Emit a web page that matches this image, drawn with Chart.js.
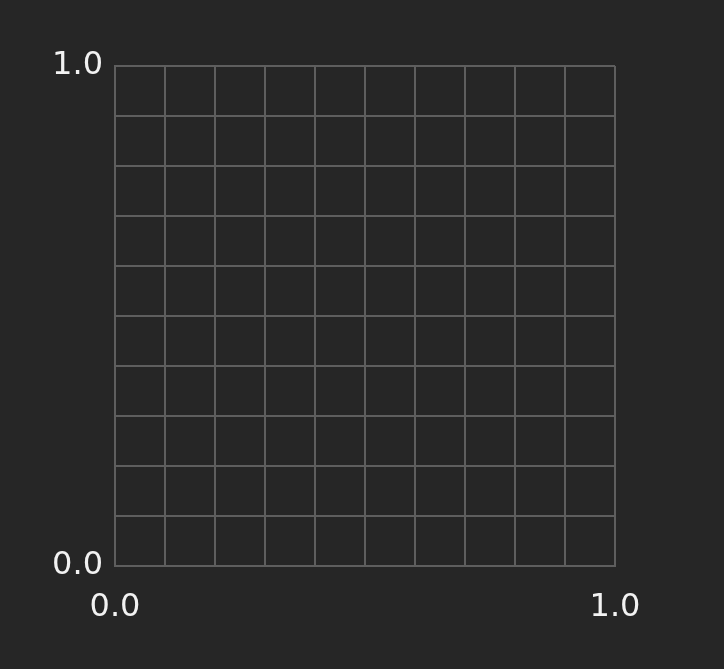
<!DOCTYPE html>
<html>
<head>
<meta charset="utf-8">
<script src="https://cdn.jsdelivr.net/npm/chart.js@4/dist/chart.umd.min.js"></script>
<style>
  html, body { margin: 0; padding: 0; background: #262626; }
  #wrap { width: 724px; height: 669px; }
</style>
</head>
<body>
<div id="wrap"><canvas id="c" width="724" height="669"></canvas></div>
<script>
// Axis ranges and labelled ticks
const xRange = [0, 1];
const yRange = [0, 1];
const gridStep = 0.1;
const xTickValues = [0, 1];
const xTickLabels = ['0.0', '1.0'];
const yTickValues = [0, 1];
const yTickLabels = ['0.0', '1.0'];
// The chart has no plotted series (empty grid)
const seriesPoints = [];

function labelFor(values, labels, v) {
  for (let i = 0; i < values.length; i++) {
    if (Math.abs(values[i] - v) < 1e-9) return labels[i];
  }
  return '';
}

const bg = {
  id: 'bg',
  beforeDraw(chart) {
    const ctx = chart.ctx;
    ctx.save();
    ctx.fillStyle = '#262626';
    ctx.fillRect(0, 0, chart.width, chart.height);
    ctx.restore();
  }
};

const gridColor = '#5e5e5e';
const font = { family: 'DejaVu Sans', size: 32 };

new Chart(document.getElementById('c'), {
  type: 'scatter',
  data: { datasets: [{ data: seriesPoints, pointRadius: 0 }] },
  options: {
    responsive: false,
    animation: false,
    layout: { padding: { left: 0, right: 109, top: 66, bottom: 0 } },
    plugins: { legend: { display: false }, tooltip: { enabled: false } },
    scales: {
      x: {
        type: 'linear',
        min: xRange[0], max: xRange[1],
        afterFit(scale) { scale.height = 103; },
        grid: { color: gridColor, lineWidth: 2, drawTicks: false },
        border: { display: true, color: gridColor, width: 2 },
        ticks: {
          stepSize: gridStep,
          autoSkip: false,
          maxRotation: 0,
          padding: 22,
          color: '#f2f2f2',
          font: font,
          callback: (v) => labelFor(xTickValues, xTickLabels, v)
        }
      },
      y: {
        type: 'linear',
        min: yRange[0], max: yRange[1],
        afterFit(scale) { scale.width = 115; },
        grid: { color: gridColor, lineWidth: 2, drawTicks: false },
        border: { display: true, color: gridColor, width: 2 },
        ticks: {
          stepSize: gridStep,
          autoSkip: false,
          padding: 12,
          color: '#f2f2f2',
          font: font,
          callback: (v) => labelFor(yTickValues, yTickLabels, v)
        }
      }
    }
  },
  plugins: [bg]
});
</script>
</body>
</html>
